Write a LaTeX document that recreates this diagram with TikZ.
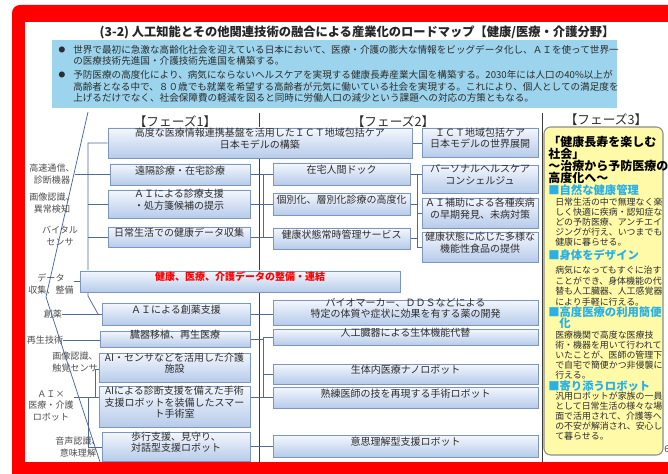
\documentclass[tikz,border=0pt]{standalone}
\usepackage{fontspec}
\setmainfont{Noto Sans CJK JP}
\usetikzlibrary{fit}
\pgfdeclarelayer{back}
\pgfdeclarelayer{bg}
\pgfsetlayers{back,bg,main}
\definecolor{framered}{RGB}{255,0,0}
\definecolor{skyb}{RGB}{155,212,236}
\definecolor{bxtop}{RGB}{244,247,253}
\definecolor{bxbot}{RGB}{182,203,234}
\definecolor{bxline}{RGB}{125,150,192}
\definecolor{conn}{RGB}{80,105,150}
\definecolor{divc}{RGB}{60,60,60}
\definecolor{chevc}{RGB}{70,100,170}
\definecolor{txt}{RGB}{45,45,45}
\definecolor{lblc}{RGB}{80,80,80}
\definecolor{ylw}{RGB}{255,250,168}
\definecolor{hcyan}{RGB}{40,176,232}
\begin{document}
\begin{tikzpicture}[x=0.75pt,y=-0.75pt,
  bx/.style={draw=bxline, line width=0.5pt, top color=bxtop, bottom color=bxbot, inner sep=0pt, text=txt, align=center, font=\fontsize{7.5}{8.8}\selectfont, preaction={fill=black!22, transform canvas={xshift=0.9pt,yshift=-0.9pt}}},
  lbl/.style={text=lblc, font=\fontsize{6.8}{8.6}\selectfont, align=center, inner sep=0pt},
  cn/.style={draw=conn, line width=0.55pt},
  divl/.style={draw=divc, line width=0.6pt},
  chev/.style={draw=chevc, line width=0.55pt},
  btxt/.style={text=txt, font=\fontsize{7.2}{8.6}\selectfont, inner sep=0pt, anchor=west},
  bdot/.style={text=txt, font=\fontsize{5}{6}\selectfont, inner sep=0pt},
  phase/.style={text=txt, font=\fontsize{9.5}{11}\selectfont, inner sep=0pt},
  ytitle/.style={text=black, font=\fontsize{9}{11}\selectfont\bfseries, inner sep=0pt, anchor=west},
  yhead/.style={text=hcyan, font=\fontsize{8.5}{10}\selectfont\bfseries, inner sep=0pt, anchor=west},
  ybody/.style={text=txt, font=\fontsize{6.7}{8}\selectfont, inner sep=0pt, anchor=west}
]
\useasboundingbox (0,0) rectangle (668,474);
\begin{pgfonlayer}{back}
  \fill[white] (0,0) rectangle (668,474);
  \fill[framered, rounded corners=6pt] (12,5) rectangle (720,520);
  \fill[white] (25,22) rectangle (720,462);
  \node[fill=skyb, inner sep=0pt, fit={(52,40) (617,108)}] (intro) {};
\end{pgfonlayer}

% title
\node[text=black!85, font=\fontsize{9.2}{11}\selectfont\bfseries, inner sep=0pt] (title) at (357,32) {(3-2) 人工知能とその他関連技術の融合による産業化のロードマップ【健康/医療・介護分野】};

% intro bullets
\node[bdot] (dot1) at (62,50) {●};
\node[btxt] (i1) at (73,50) {世界で最初に急激な高齢化社会を迎えている日本において、医療・介護の膨大な情報をビッグデータ化し、ＡＩを使って世界一};
\node[btxt] (i2) at (73,61) {の医療技術先進国・介護技術先進国を構築する。};
\node[bdot] (dot2) at (62,75) {●};
\node[btxt] (i3) at (73,75) {予防医療の高度化により、病気にならないヘルスケアを実現する健康長寿産業大国を構築する。2030年には人口の40\%以上が};
\node[btxt] (i4) at (73,86.5) {高齢者となる中で、８０歳でも就業を希望する高齢者が元気に働いている社会を実現する。これにより、個人としての満足度を};
\node[btxt] (i5) at (73,98) {上げるだけでなく、社会保障費の軽減を図ると同時に労働人口の減少という課題への対応の方策ともなる。};

% phase headers
\node[phase] (ph1) at (175,122) {【フェーズ1】};
\node[phase] (ph2) at (393,122) {【フェーズ2】};
\node[phase] (ph3) at (606,120) {【フェーズ3】};

% phase 1 upper
\node[bx, fit={(108,128) (412,158)}] (b1) {高度な医療情報連携基盤を活用したＩＣＴ地域包括ケア\\日本モデルの構築};
\node[bx, fit={(110,164) (250,185)}] (b2) {遠隔診療・在宅診療};
\node[bx, fit={(108,190) (250,218)}] (b3) {ＡＩによる診療支援\\・処方箋候補の提示};
\node[bx, fit={(108,227) (250,247)}] (b4) {日常生活での健康データ収集};
\node[bx, fit={(80,271) (400,292)}, text=red, font=\fontsize{7.5}{8.8}\selectfont\bfseries] (data) {健康、医療、介護データの整備・連結};

% phase 2 upper
\node[bx, fit={(273,163) (410,185)}] (c1) {在宅人間ドック};
\node[bx, fit={(273,193) (410,215)}] (c2) {個別化、層別化診療の高度化};
\node[bx, fit={(273,228) (410,249)}] (c3) {健康状態常時管理サービス};
\node[bx, fit={(422,128) (538,157)}] (d1) {ＩＣＴ地域包括ケア\\日本モデルの世界展開};
\node[bx, fit={(422,165) (538,193)}] (d2) {パーソナルヘルスケア\\コンシェルジュ};
\node[bx, fit={(422,198) (538,228)}] (d3) {ＡＩ補助による各種疾病\\の早期発見、未病対策};
\node[bx, fit={(422,232) (538,262)}] (d4) {健康状態に応じた多様な\\機能性食品の提供};

% phase 1 lower
\node[bx, fit={(102,303) (250,325)}] (e1) {ＡＩによる創薬支援};
\node[bx, fit={(100,331) (250,347)}] (e2) {臓器移植、再生医療};
\node[bx, fit={(99,353) (250,382)}] (e3) {AI・センサなどを活用した介護\\施設};
\node[bx, fit={(99,386) (250,427)}] (e4) {AIによる診断支援を備えた手術\\支援ロボットを装備したスマー\\ト手術室};
\node[bx, fit={(102,432) (250,461)}] (e5) {歩行支援、見守り、\\対話型支援ロボット};

% phase 2 lower
\node[bx, fit={(273,300) (538,325)}] (f1) {バイオマーカー、ＤＤＳなどによる\\特定の体質や症状に効果を有する薬の開発};
\node[bx, fit={(273,329) (538,345)}] (f2) {人工臓器による生体機能代替};
\node[bx, fit={(273,364) (538,384)}] (f3) {生体内医療ナノロボット};
\node[bx, fit={(273,387) (538,408)}] (f4) {熟練医師の技を再現する手術ロボット};
\node[bx, fit={(273,435) (538,457)}] (f5) {意思理解型支援ロボット};

% left labels
\node[lbl] (L1) at (52,174) {高速通信、\\診断機器};
\node[lbl] (L2) at (52,203) {画像認識、\\異常検知};
\node[lbl] (L3) at (60,236) {バイタル\\センサ};
\node[lbl] (L4) at (51,284) {データ\\収集、整備};
\node[lbl] (L5) at (53,314) {創薬};
\node[lbl] (L6) at (45,340) {再生技術};
\node[lbl] (L7) at (75,362) {画像認識、\\触覚センサ};
\node[lbl] (L8) at (51,406) {ＡＩ×\\医療・介護\\ロボット};
\node[lbl] (L9) at (78,447) {音声認識、\\意味理解};

% phase 3 box
\node[draw=black!45, line width=0.8pt, fill=ylw, rounded corners=5pt, inner sep=0pt, fit={(544,127) (663,455)}] (p3) {};
\foreach \t/\yy [count=\i] in {「健康長寿を楽しむ/142, 社会」/154, ～治療から予防医療の/166, 高度化へ～/178}
  \node[ytitle] (yt\i) at (548,\yy) {\t};
\node[yhead] (yh1) at (548,190) {■自然な健康管理};
\foreach \t/\yy [count=\i] in {日常生活の中で無理なく楽/202, しく快適に疾病・認知症な/212, どの予防医療、アンチエイ/222, ジングが行え、いつまでも/232, 健康に暮らせる。/242}
  \node[ybody] (ya\i) at (555,\yy) {\t};
\node[yhead] (yh2) at (548,255) {■身体をデザイン};
\foreach \t/\yy [count=\i] in {病気になってもすぐに治す/270, ことができ、身体機能の代/281, 替も人工臓器、人工感覚器/291, により手軽に行える。/302}
  \node[ybody] (yb\i) at (555,\yy) {\t};
\node[yhead] (yh3) at (548,312) {■高度医療の利用簡便};
\node[yhead] (yh3b) at (559,323) {化};
\foreach \t/\yy [count=\i] in {医療機関で高度な医療技/335, 術・機器を用いて行われて/345, いたことが、医師の管理下/355, で自宅で簡便かつ非侵襲に/365, 行える。/375}
  \node[ybody] (yc\i) at (555,\yy) {\t};
\node[yhead] (yh4) at (548,386) {■寄り添うロボット};
\foreach \t/\yy [count=\i] in {汎用ロボットが家族の一員/396, として日常生活の様々な場/406, 面で活用されて、介護等へ/416, の不安が解消され、安心し/426, て暮らせる。/436}
  \node[ybody] (yd\i) at (555,\yy) {\t};
\node[text=black!70, font=\fontsize{7}{8}\selectfont, inner sep=0pt] (pg) at (667,449) {6};

% connectors and lines
\begin{pgfonlayer}{bg}
  \coordinate (v1a) at (259,113); \coordinate (v1b) at (259,462);
  \coordinate (v2a) at (542,113); \coordinate (v2b) at (542,462);
  \draw[divl] (v1a) -- (v1b);
  \draw[divl] (v2a) -- (v2b);
  \coordinate (ca) at (88,112); \coordinate (cb) at (46,297); \coordinate (cc) at (100,462);
  \draw[chev] (ca) -- (cb) -- (cc);
  % upper left tree
  \coordinate (ta) at (88,143); \coordinate (tb) at (88,296); \coordinate (tc) at (98,314);
  \draw[cn] (ta -| b1.west) -- (ta) -- (tb) -- (tc);
  \coordinate (t3) at (88,204); \coordinate (t4) at (88,237);
  \draw[cn] (t3) -- (t3 -| b3.west);
  \draw[cn] (t4) -- (t4 -| b4.west);
  \draw[cn] (L1.east |- b2.west) -- (b2.west);
  \draw[cn] (L4.east |- data.west) -- (data.west);
  \draw[cn] (L5.east) -- (L5.east -| e1.west);
  \draw[cn] (L6.east) -- (L6.east -| e2.west);
  % robot tree
  \coordinate (rl) at (74,397);
  \draw[cn] (rl) -- (rl -| e4.west);
  \coordinate (ra) at (95,397); \coordinate (rb) at (95,369);
  \draw[cn] (ra) -- (rb) -- (rb -| e3.west);
  \coordinate (rc) at (88,397); \coordinate (rd) at (88,447);
  \draw[cn] (rc) -- (rd) -- (rd -| e5.west);
  % upper middle
  \coordinate (ma) at (263,174.5); \coordinate (mb) at (263,237);
  \draw[cn] (b2.east) -- (b2.east -| c1.west);
  \draw[cn] (b3.east) -- (b3.east -| c2.west);
  \draw[cn] (b4.east) -- (b4.east -| c3.west);
  \draw[cn] (ma) -- (mb);
  \draw[cn] (b1.east) -- (b1.east -| d1.west);
  % right tree
  \coordinate (na) at (417,174); \coordinate (nb) at (417,247); \coordinate (nc) at (417,213);
  \draw[cn] (c1.east) -- (c1.east -| d2.west);
  \draw[cn] (na) -- (nb) -- (nb -| d4.west);
  \draw[cn] (nc) -- (nc -| d3.west);
  \draw[cn] (c2.east) -- (c2.east -| na);
  \draw[cn] (c3.east) -- (c3.east -| na);
  % lower middle
  \draw[cn] (e1.east) -- (e1.east -| f1.west);
  \coordinate (la) at (263,337); \coordinate (lb) at (263,397.5); \coordinate (lc) at (263,374);
  \draw[cn] (e2.east) -- (e2.east -| la);
  \draw[cn] (la) -- (lb);
  \draw[cn] (la) -- (la -| f2.west);
  \draw[cn] (lc) -- (lc -| f3.west);
  \draw[cn] (lb) -- (lb -| f4.west);
  \draw[cn] (e4.east |- lb) -- (lb);
  \draw[cn] (e5.east) -- (e5.east -| f5.west);
\end{pgfonlayer}
\end{tikzpicture}
\end{document}
